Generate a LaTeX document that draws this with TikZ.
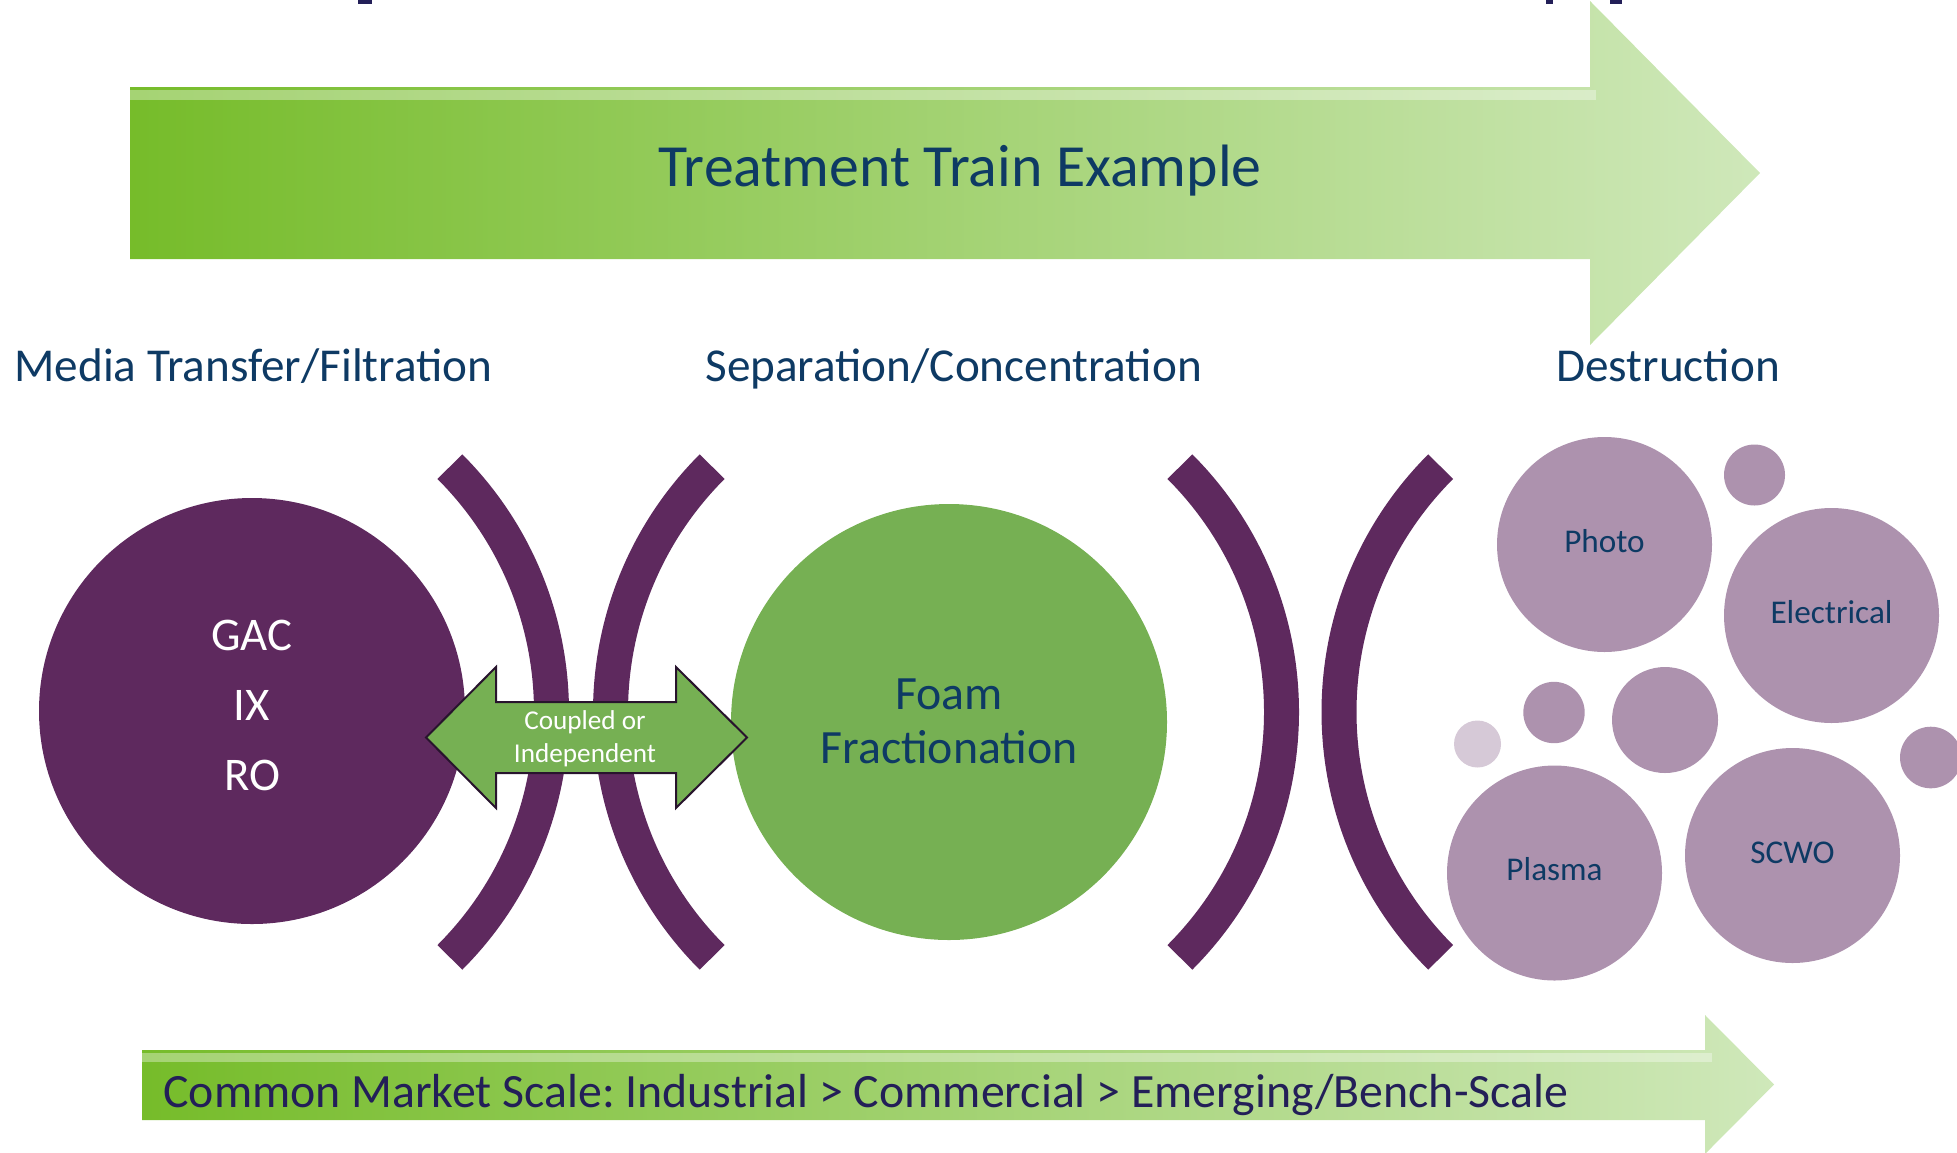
\documentclass[tikz,border=0pt]{standalone}
\usepackage{fontspec}
\setmainfont{Carlito}
\usetikzlibrary{calc}
\frenchspacing

\definecolor{plum}{RGB}{94,41,94}
\definecolor{leaf}{RGB}{118,176,83}
\definecolor{mauve}{RGB}{173,146,174}
\definecolor{palemauve}{RGB}{214,201,215}
\definecolor{navy}{RGB}{14,58,100}
\definecolor{ink}{RGB}{35,31,88}
\definecolor{edge}{RGB}{40,20,45}
\definecolor{trainL}{RGB}{118,188,42}
\definecolor{trainR}{RGB}{207,232,186}

\begin{document}
\begin{tikzpicture}[x=.5pt,y=-.5pt,
  bracket/.style={plum,line width=17.5pt},
  bubble/.style={circle,fill=mauve,inner sep=0pt,text=navy,
    font=\fontsize{16.6}{20}\selectfont,text height=.75em,text depth=0pt},
  heading/.style={anchor=base west,inner sep=0pt,text=navy,
    font=\fontsize{23.6}{28}\selectfont}]

  \useasboundingbox (0,0) rectangle (1957,1152);

  \coordinate (C1) at (204.5,712);
  \coordinate (C2) at (957.5,712);
  \coordinate (C3) at (934.5,712);
  \coordinate (C4) at (1686,712);

  % cut-off marks at the top edge
  \fill[ink] (358,0) rectangle (372,4);
  \fill[ink] (1546,0) rectangle (1553,4);
  \fill[ink] (1610,0) rectangle (1622,4);

  % treatment train arrow
  \shade[left color=trainL,right color=trainR]
    (130,87) -- (1590,87) -- (1590,1) -- (1760,173) -- (1590,345)
    -- (1590,259) -- (130,259) -- cycle;
  \fill[white,opacity=.35] (130,90) rectangle (1596,100);
  \node[anchor=base,inner sep=0pt,text=navy,font=\fontsize{29.9}{35}\selectfont]
    (title) at (960,186) {Treatment Train Example};

  \node[heading] (media) at (14,381) {Media Transfer/Filtration};
  \node[heading] (sep)   at (705,381) {Separation/Concentration};
  \node[heading] (dest)  at (1556,381) {Destruction};

  % brackets
  \draw[bracket] (C1) ++(-45:347) arc[start angle=-45,end angle=45,radius=347];
  \draw[bracket] (C2) ++(135:347) arc[start angle=135,end angle=225,radius=347];
  \draw[bracket] (C3) ++(-45:347) arc[start angle=-45,end angle=45,radius=347];
  \draw[bracket] (C4) ++(135:347) arc[start angle=135,end angle=225,radius=347];

  \node[circle,fill=plum,minimum size=213pt,inner sep=0pt] (gac) at (252,711) {};
  \node[align=center,text=white,font=\fontsize{23.4}{35}\selectfont]
    (gactxt) at (252,705) {GAC\\IX\\RO};

  \node[circle,fill=leaf,minimum size=218pt,inner sep=0pt] (foam) at (949,722) {};
  \node[align=center,text=navy,font=\fontsize{23.9}{27}\selectfont]
    (foamtxt) at (949,721) {Foam\\Fractionation};

  % coupled or independent
  \filldraw[fill=leaf,draw=edge,line width=1pt]
    (426,737.5) -- (496,667) -- (496,702) -- (676,702) -- (676,667)
    -- (747,737.5) -- (676,808) -- (676,773) -- (496,773) -- (496,808) -- cycle;
  \node[align=center,text=white,font=\fontsize{13.6}{16.5}\selectfont]
    (link) at (585,739) {Coupled or\\Independent};

  % destruction bubbles
  \node[bubble,minimum size=107.5pt] (photo)  at (1604.5,544.5) {Photo};
  \node[bubble,minimum size=107.5pt] (elec)   at (1831.5,615.5) {Electrical};
  \node[bubble,minimum size=107.5pt] (plasma) at (1554.5,873) {Plasma};
  \node[bubble,minimum size=107.5pt] (scwo)   at (1792.5,855.5) {SCWO};
  \node[bubble,minimum size=30.5pt] (b1) at (1754.5,475) {};
  \node[bubble,minimum size=30.7pt] (b2) at (1554,712.5) {};
  \node[bubble,minimum size=53pt]   (b3) at (1665,720) {};
  \node[bubble,minimum size=30.8pt] (b4) at (1930.8,757.5) {};
  \node[bubble,fill=palemauve,minimum size=23.5pt] (b5) at (1477.5,744) {};

  % market scale arrow
  \shade[left color=trainL,right color=trainR]
    (142,1050) -- (1705,1050) -- (1705,1015) -- (1774,1084.5) -- (1705,1154)
    -- (1705,1120) -- (142,1120) -- cycle;
  \fill[white,opacity=.35] (142,1053) rectangle (1712,1062);
  \node[anchor=base west,inner sep=0pt,text=ink,font=\fontsize{23.9}{28}\selectfont]
    (scale) at (163,1107) {Common Market Scale: Industrial > Commercial > Emerging/Bench-Scale};

\end{tikzpicture}
\end{document}
